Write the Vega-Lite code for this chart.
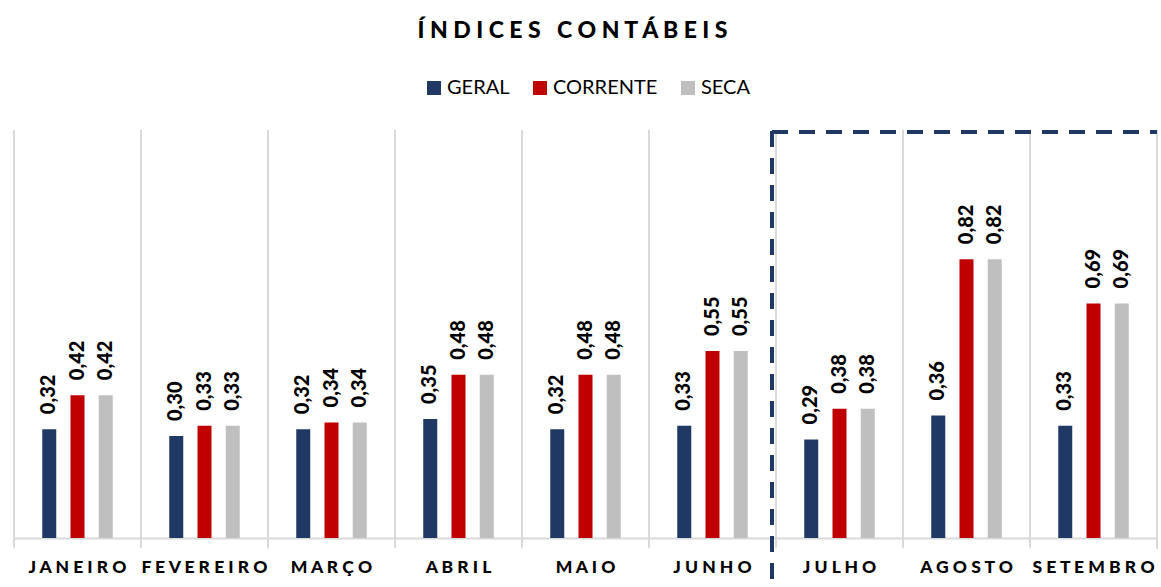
{
  "$schema": "https://vega.github.io/schema/vega-lite/v6.json",
  "autosize": {"type": "none"},
  "width": 1143,
  "height": 408,
  "padding": {"top": 130, "left": 14, "right": 4, "bottom": 49},
  "background": "white",
  "title": {
    "text": "Í N D I C E S \u00a0 C O N T Á B E I S",
    "font": "Lato",
    "fontSize": 23,
    "fontWeight": 900,
    "color": "#000000",
    "anchor": "middle",
    "frame": "group",
    "baseline": "alphabetic",
    "offset": 17,
    "dx": -13
  },
  "config": {
    "locale": {"number": {"decimal": ",", "thousands": ".", "grouping": [3], "currency": ["R$", ""]}},
    "view": {"stroke": null},
    "font": "Lato"
  },
  "data": {
    "values": [
      {"month": "JANEIRO", "series": "GERAL", "value": 0.32},
      {"month": "JANEIRO", "series": "CORRENTE", "value": 0.42},
      {"month": "JANEIRO", "series": "SECA", "value": 0.42},
      {"month": "FEVEREIRO", "series": "GERAL", "value": 0.30},
      {"month": "FEVEREIRO", "series": "CORRENTE", "value": 0.33},
      {"month": "FEVEREIRO", "series": "SECA", "value": 0.33},
      {"month": "MARÇO", "series": "GERAL", "value": 0.32},
      {"month": "MARÇO", "series": "CORRENTE", "value": 0.34},
      {"month": "MARÇO", "series": "SECA", "value": 0.34},
      {"month": "ABRIL", "series": "GERAL", "value": 0.35},
      {"month": "ABRIL", "series": "CORRENTE", "value": 0.48},
      {"month": "ABRIL", "series": "SECA", "value": 0.48},
      {"month": "MAIO", "series": "GERAL", "value": 0.32},
      {"month": "MAIO", "series": "CORRENTE", "value": 0.48},
      {"month": "MAIO", "series": "SECA", "value": 0.48},
      {"month": "JUNHO", "series": "GERAL", "value": 0.33},
      {"month": "JUNHO", "series": "CORRENTE", "value": 0.55},
      {"month": "JUNHO", "series": "SECA", "value": 0.55},
      {"month": "JULHO", "series": "GERAL", "value": 0.29},
      {"month": "JULHO", "series": "CORRENTE", "value": 0.38},
      {"month": "JULHO", "series": "SECA", "value": 0.38},
      {"month": "AGOSTO", "series": "GERAL", "value": 0.36},
      {"month": "AGOSTO", "series": "CORRENTE", "value": 0.82},
      {"month": "AGOSTO", "series": "SECA", "value": 0.82},
      {"month": "SETEMBRO", "series": "GERAL", "value": 0.33},
      {"month": "SETEMBRO", "series": "CORRENTE", "value": 0.69},
      {"month": "SETEMBRO", "series": "SECA", "value": 0.69}
    ]
  },
  "resolve": {"scale": {"x": "independent"}},
  "layer": [
    {
      "layer": [
        {
          "transform": [{"filter": "datum.series == 'GERAL'"}],
          "mark": {"type": "rule", "color": "#D9D9D9", "strokeWidth": 2},
          "encoding": {
            "x": {
              "field": "month",
              "type": "nominal",
              "sort": null,
              "bandPosition": 0,
              "scale": {"paddingInner": 0, "paddingOuter": 0},
              "axis": {
                "title": null,
                "labelExpr": "replace(datum.label, regexp('(.)(?=.)', 'g'), '$1 ')",
                "labelFont": "Lato",
                "labelFontSize": 17.5,
                "labelFontWeight": 900,
                "labelColor": "#000000",
                "labelAngle": 0,
                "labelPadding": 20,
                "labelBaseline": "top",
                "ticks": false,
                "grid": false,
                "domain": true,
                "domainColor": "#D9D9D9",
                "domainWidth": 2
              }
            },
            "y": {"datum": 1.2, "type": "quantitative", "scale": {"domain": [0, 1.2], "nice": false, "zero": true}, "axis": null},
            "y2": {"datum": -0.03}
          }
        },
        {
          "mark": {"type": "bar"},
          "encoding": {
            "x": {"field": "month", "type": "nominal", "sort": null},
            "xOffset": {
              "field": "series",
              "type": "nominal",
              "scale": {"domain": ["GERAL", "CORRENTE", "SECA"], "paddingInner": 0.504, "paddingOuter": 1}
            },
            "y": {"field": "value", "type": "quantitative"},
            "color": {
              "field": "series",
              "type": "nominal",
              "scale": {"domain": ["GERAL", "CORRENTE", "SECA"], "range": ["#203864", "#C00000", "#BFBFBF"]},
              "legend": {
                "title": null,
                "orient": "none",
                "direction": "horizontal",
                "legendX": 410,
                "legendY": -52,
                "symbolType": "square",
                "symbolSize": 196,
                "symbolStrokeWidth": 0,
                "labelFont": "Lato",
                "labelFontSize": 20,
                "labelColor": "#000000",
                "labelOffset": 3,
                "columnPadding": 20
              }
            }
          }
        },
        {
          "mark": {
            "type": "text",
            "angle": 270,
            "align": "left",
            "baseline": "middle",
            "dx": 15,
            "font": "Lato",
            "fontSize": 20,
            "fontWeight": 900,
            "color": "#000000"
          },
          "encoding": {
            "x": {"field": "month", "type": "nominal", "sort": null},
            "xOffset": {"field": "series", "type": "nominal"},
            "y": {"field": "value", "type": "quantitative"},
            "text": {"field": "value", "type": "quantitative", "format": ".2f"}
          }
        }
      ]
    },
    {
      "layer": [
        {
          "mark": {"type": "rule", "color": "#D9D9D9", "strokeWidth": 2},
          "encoding": {
            "x": {"datum": 9, "type": "quantitative", "scale": {"domain": [0, 9], "nice": false, "zero": false}, "axis": null},
            "y": {"datum": 1.2, "type": "quantitative"},
            "y2": {"datum": -0.03}
          }
        },
        {
          "mark": {"type": "rule", "color": "#203864", "strokeWidth": 3.5, "strokeDash": [15, 12]},
          "encoding": {
            "x": {"datum": 5.97, "type": "quantitative"},
            "y": {"datum": 1.195, "type": "quantitative"},
            "y2": {"datum": -0.12}
          }
        },
        {
          "mark": {"type": "rule", "color": "#203864", "strokeWidth": 3.5, "strokeDash": [15, 12]},
          "encoding": {
            "x": {"datum": 5.97, "type": "quantitative"},
            "x2": {"datum": 9},
            "y": {"datum": 1.195, "type": "quantitative"}
          }
        }
      ]
    }
  ]
}
